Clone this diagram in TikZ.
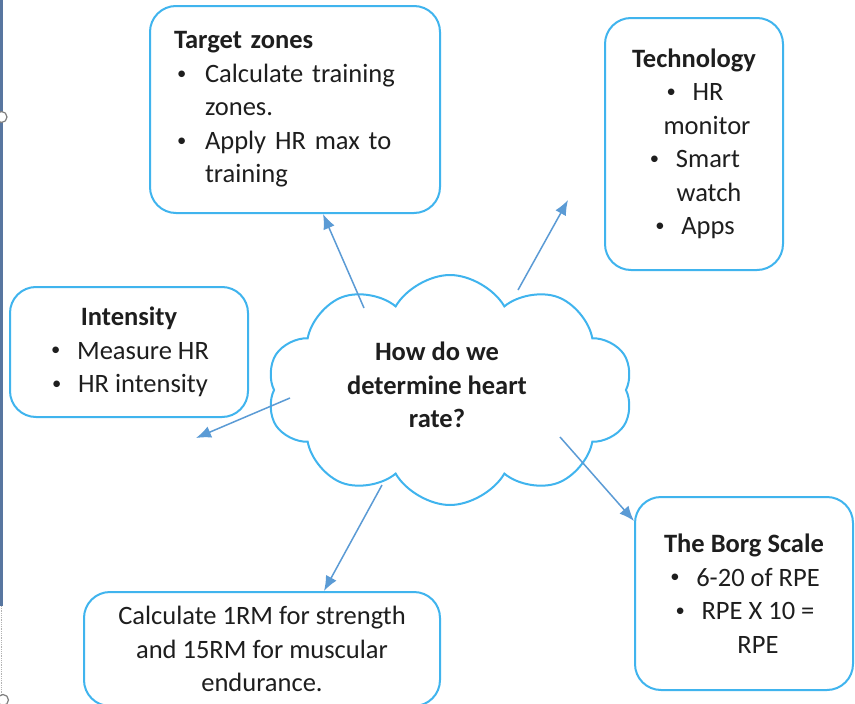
\documentclass[tikz,border=0pt]{standalone}
\usepackage{fontspec}
\setmainfont{Carlito}
\usetikzlibrary{arrows.meta, shapes.symbols}

\definecolor{boxblue}{RGB}{64,180,238}
\definecolor{arrowblue}{RGB}{91,155,213}
\definecolor{textgrey}{RGB}{30,30,30}
\definecolor{edgeblue}{RGB}{88,118,160}

\newcommand{\dotmark}{\raisebox{0.12em}{\scalebox{0.7}{\textbullet}}}
\newcommand{\bul}{\makebox[31pt][l]{\hspace{3pt}\dotmark}}
\newcommand{\cbul}{\makebox[28pt][l]{\hspace{2pt}\dotmark}}

\begin{document}
\begin{tikzpicture}[
    x=1pt, y=-1pt,
    >=Latex, % default arrow tip
    box/.style={draw=boxblue, line width=2pt, rounded corners=26pt, inner sep=0pt,
        text=textgrey, font=\fontsize{26.5}{33.5}\selectfont},
    link/.style={draw=arrowblue, line width=1.5pt, -{Latex[length=15pt,width=12pt]}},
    handle/.style={draw=gray, fill=white, line width=1.2pt, circle, inner sep=0pt, minimum size=11pt}
]

\clip (0,0) rectangle (855,704);
\fill[white] (0,0) rectangle (855,704);

% Slide edge on the left
\draw[edgeblue, line width=3pt] (1.5,0) -- (1.5,606);
\draw[gray!60, line width=0.8pt, densely dotted] (1.5,606) -- (1.5,704);
\node[handle] (h1) at (1.5,117) {};
\node[handle] (h2) at (3,700) {};

% The cloud in the middle
\node[cloud, cloud puffs=10, cloud puff arc=120, aspect=1.6, draw=boxblue, line width=2pt,
    minimum width=366pt, minimum height=230pt, inner sep=0pt] (cloud) at (450,390) {};
\node[font=\fontsize{26.5}{33.5}\selectfont\bfseries, text=textgrey, align=center] (question)
    at (437,385) {How do we\\determine heart\\rate?};

% Boxes around it
\node[box, minimum width=290pt, minimum height=207pt, text width=242pt, align=left] (target)
    at (295,109.5) {\textbf{Target zones}\\
    \bul Calculate training\\
    \hspace*{31pt}zones.\\
    \bul Apply HR max to\\
    \hspace*{31pt}training};

\node[box, minimum width=178pt, minimum height=252pt, align=center] (tech)
    at (694,144) {\textbf{Technology}\\
    \cbul HR\\
    \hspace*{26pt}monitor\\
    \cbul Smart\\
    \hspace*{30pt}watch\\
    \cbul Apps};

\node[box, minimum width=238pt, minimum height=130pt, align=center] (intens)
    at (129,352) {\textbf{Intensity}\\
    \cbul Measure HR\\
    \cbul HR intensity};

\node[box, minimum width=218pt, minimum height=193pt, align=center] (borg)
    at (744,593.5) {\textbf{The Borg Scale}\\
    \cbul 6-20 of RPE\\
    \cbul RPE X 10 =\\
    \hspace*{28pt}RPE};

\node[box, minimum width=356pt, minimum height=114pt, align=center] (calc)
    at (262,649) {Calculate 1RM for strength\\and 15RM for muscular\\endurance.};

% Arrows out of the cloud
\coordinate (to-target) at (364,308);
\coordinate (to-tech) at (518,290);
\coordinate (to-intens) at (290,398);
\coordinate (to-borg) at (560,437);
\coordinate (to-calc) at (382,485);
\coordinate (tech-end) at (568,200);
\coordinate (intens-end) at (196,438);

\draw[link] (to-target) -- ([xshift=28pt]target.south);
\draw[link] (to-tech) -- (tech-end);
\draw[link] (to-intens) -- (intens-end);
\draw[link] (to-borg) -- ([yshift=-25pt]borg.north west);
\draw[link] (to-calc) -- ([xshift=62pt]calc.north);

\end{tikzpicture}
\end{document}
